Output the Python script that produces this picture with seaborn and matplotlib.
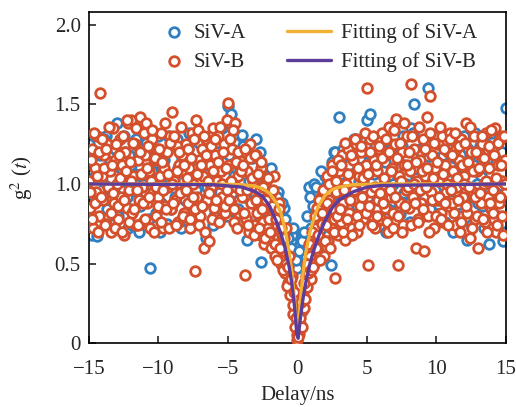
import numpy as np
import pandas as pd
import matplotlib
matplotlib.use("Agg")
import matplotlib.pyplot as plt
import seaborn as sns

# delay bins (ns)
delay_b = np.round(np.linspace(-15, 15, 301), 2)
delay_b2 = np.round(np.linspace(-14.95, 14.95, 300), 2)
delay_a = np.round(np.linspace(-15, 15, 151), 2)
delay_a2 = np.round(np.linspace(-14.9, 14.9, 150), 2)

# SiV-B counts (normalised)
siv_b = [
    1.02, 0.85, 1.22, 0.72, 1.10, 0.95, 1.30, 0.80, 1.57, 1.05,
    0.90, 1.18, 0.75, 1.25, 0.98, 1.08, 0.70, 1.35, 0.88, 1.15,
    1.00, 0.78, 1.28, 0.92, 1.12, 0.68, 1.20, 0.85, 1.38, 0.96,
    1.40, 0.82, 1.05, 1.25, 0.74, 1.15, 0.90, 1.42, 0.98, 0.76,
    1.18, 1.38, 0.88, 1.08, 0.72, 1.28, 0.95, 1.15, 0.80, 1.22,
    0.92, 1.05, 1.32, 0.72, 1.10, 0.86, 1.20, 0.98, 1.30, 0.84,
    1.45, 1.02, 0.90, 1.24, 0.76, 1.12, 0.95, 1.18, 0.82, 1.06,
    1.25, 0.88, 1.10, 0.72, 1.32, 1.00, 0.45, 1.40, 0.92, 1.15,
    0.80, 1.22, 1.05, 0.60, 1.28, 0.90, 0.64, 1.12, 0.98, 1.35,
    0.85, 1.18, 1.02, 1.30, 0.78, 1.08, 0.92, 1.25, 0.82, 1.40,
    1.51, 1.12, 0.88, 1.22, 0.76, 1.38, 0.98, 1.05, 0.82, 1.15,
    0.92, 1.20, 0.43, 0.78, 1.08, 0.70, 1.25, 0.88, 1.02, 0.74,
    1.18, 0.82, 0.95, 0.68, 1.10, 0.76, 0.62, 1.02, 0.86, 0.72,
    0.92, 0.60, 0.80, 1.05, 0.55, 0.74, 0.66, 0.88, 0.50, 0.68,
    0.58, 0.44, 0.72, 0.38, 0.55, 0.35, 0.42, 0.18, 0.28, 0.16,
    0.02, 0.06, 0.12, 0.20, 0.30, 0.22, 0.42, 0.35, 0.48, 0.55,
    0.40, 0.62, 0.50, 0.72, 0.85, 0.58, 0.66, 0.92, 0.75, 0.55,
    0.82, 1.05, 0.64, 0.90, 0.72, 1.12, 0.78, 0.41, 0.95, 0.68,
    1.08, 0.76, 1.18, 0.88, 0.65, 1.00, 1.22, 0.82, 0.94, 0.72,
    1.15, 0.90, 1.25, 0.70, 1.05, 0.86, 1.20, 0.78, 0.98, 1.12,
    1.60, 0.49, 1.28, 0.95, 0.80, 1.15, 0.72, 1.08, 0.90, 1.22,
    0.78, 1.32, 1.00, 0.85, 1.18, 0.70, 1.36, 0.92, 1.10, 0.82,
    1.25, 1.41, 0.49, 1.05, 0.88, 1.20, 0.74, 1.12, 0.96, 1.30,
    0.85, 1.08, 1.63, 0.92, 1.22, 0.60, 1.02, 0.78, 1.15, 0.88,
    1.28, 0.58, 1.05, 1.42, 0.80, 1.55, 0.95, 1.18, 0.72, 1.10,
    0.90, 1.25, 1.02, 0.82, 1.30, 0.76, 1.12, 0.95, 1.20, 0.86,
    1.32, 0.88, 1.08, 0.74, 1.22, 0.98, 1.15, 0.70, 1.28, 0.92,
    1.05, 1.38, 0.82, 1.12, 0.66, 1.20, 0.95, 1.30, 0.78, 1.08,
    0.60, 1.18, 0.88, 1.25, 1.00, 0.76, 1.32, 0.92, 1.10, 0.84,
    1.22, 0.96, 1.35, 0.70, 1.12, 0.88, 1.28, 1.02, 0.68, 1.15,
    0.95,
]
siv_b2 = [
    0.95, 1.15, 0.78, 1.32, 0.88, 1.05, 0.70, 1.20, 0.92, 1.28,
    1.10, 0.74, 1.22, 0.98, 1.36, 0.82, 1.12, 0.94, 0.72, 1.25,
    0.86, 1.18, 1.04, 0.70, 1.30, 0.90, 1.08, 1.40, 0.76, 1.14,
    1.02, 1.26, 0.84, 1.35, 0.96, 0.74, 1.20, 1.06, 0.88, 1.32,
    0.78, 1.10, 1.24, 0.92, 1.02, 1.34, 0.70, 1.16, 0.98, 0.86,
    1.22, 0.76, 1.14, 0.96, 1.38, 0.84, 1.06, 0.72, 1.26, 1.00,
    0.88, 1.30, 0.74, 1.08, 1.20, 0.94, 1.36, 0.80, 1.12, 0.96,
    1.04, 1.22, 0.78, 1.16, 0.92, 1.28, 0.84, 1.06, 1.34, 0.74,
    1.12, 0.86, 1.30, 0.70, 1.18, 1.02, 0.94, 1.24, 0.78, 1.08,
    1.28, 0.90, 1.14, 0.76, 1.36, 1.00, 1.20, 0.86, 1.10, 0.96,
    0.90, 1.28, 1.02, 1.34, 0.84, 1.14, 0.72, 1.20, 0.96, 1.08,
    1.12, 0.82, 1.22, 0.96, 0.74, 1.16, 0.88, 1.04, 0.68, 1.18,
    0.90, 1.06, 0.72, 1.14, 0.84, 0.98, 0.66, 0.90, 1.04, 0.78,
    0.70, 0.86, 0.96, 0.62, 0.78, 0.52, 0.84, 0.60, 0.72, 0.46,
    0.66, 0.50, 0.36, 0.48, 0.30, 0.40, 0.24, 0.32, 0.10, 0.05,
    0.04, 0.16, 0.26, 0.10, 0.38, 0.28, 0.50, 0.44, 0.62, 0.46,
    0.70, 0.48, 0.80, 0.60, 0.68, 0.90, 0.52, 0.82, 0.96, 0.64,
    0.74, 0.88, 1.00, 0.60, 1.08, 0.84, 0.70, 1.02, 0.80, 1.15,
    0.84, 1.12, 0.70, 0.96, 1.26, 0.78, 1.06, 0.90, 1.18, 0.68,
    0.96, 1.28, 0.80, 1.10, 0.74, 1.24, 0.92, 1.04, 1.32, 0.82,
    1.06, 0.86, 1.20, 0.74, 1.30, 0.98, 1.12, 0.80, 1.24, 0.94,
    1.16, 0.88, 1.04, 1.28, 0.76, 1.20, 0.96, 1.08, 0.72, 1.34,
    0.92, 1.16, 0.80, 1.26, 1.02, 0.70, 1.38, 0.86, 1.12, 0.98,
    1.20, 0.74, 1.30, 1.00, 0.88, 1.14, 0.76, 1.36, 0.96, 1.08,
    0.84, 1.22, 0.98, 1.10, 0.70, 1.32, 0.90, 1.04, 1.26, 0.80,
    1.14, 0.92, 1.36, 0.78, 1.06, 1.22, 0.88, 1.00, 0.74, 1.28,
    0.96, 1.18, 0.82, 1.32, 1.04, 0.90, 1.24, 0.76, 1.12, 1.00,
    1.26, 0.86, 1.14, 0.98, 1.36, 0.72, 1.08, 0.92, 1.20, 0.80,
    1.10, 0.94, 1.30, 0.78, 1.16, 1.02, 0.70, 1.24, 0.88, 1.34,
    0.82, 1.18, 1.04, 0.74, 1.26, 0.92, 1.12, 0.80, 1.30, 1.00,
]

# SiV-A counts (normalised)
siv_a = [
    1.25, 0.68, 1.05, 0.67, 1.18, 0.92, 1.30, 0.80, 1.10, 0.95,
    1.38, 0.85, 1.02, 1.20, 0.72, 1.12, 0.90, 1.28, 0.70, 1.05,
    0.95, 1.22, 0.47, 1.10, 0.82, 1.30, 0.88, 1.15, 0.75, 1.02,
    1.28, 0.92, 1.10, 0.72, 1.20, 0.98, 1.32, 0.85, 1.08, 0.78,
    1.15, 0.90, 0.66, 1.25, 1.02, 0.80, 1.18, 0.95, 1.35, 0.88,
    1.49, 1.44, 1.05, 0.82, 1.22, 1.31, 0.92, 0.65, 1.18, 1.05,
    1.28, 0.80, 0.51, 1.00, 0.90, 1.08, 0.70, 0.82, 0.95, 0.62,
    0.85, 0.58, 0.72, 0.68, 0.55, 0.47, 0.62, 0.68, 0.55, 0.98,
    0.72, 1.00, 0.60, 0.90, 0.80, 1.05, 0.68, 0.49, 1.20, 0.92,
    1.42, 0.85, 1.18, 0.95, 1.10, 0.78, 1.28, 1.02, 1.20, 0.88,
    1.40, 1.44, 0.74, 1.12, 0.90, 1.25, 0.72, 0.70, 1.05, 1.35,
    0.92, 1.18, 0.81, 1.30, 1.00, 0.88, 1.35, 1.50, 0.95, 1.22,
    0.80, 1.12, 1.60, 0.98, 0.82, 1.28, 0.90, 1.15, 0.76, 1.05,
    1.22, 0.70, 0.95, 1.10, 0.82, 1.30, 0.65, 1.18, 0.92, 1.32,
    0.88, 1.05, 0.72, 1.25, 0.62, 1.15, 0.95, 0.80, 1.30, 0.64,
    1.48,
]
siv_a2 = [
    1.12, 0.88, 1.20, 0.76, 1.02, 1.28, 0.84, 1.14, 0.96, 1.22,
    0.80, 1.10, 1.30, 0.92, 1.18, 0.74, 1.06, 1.24, 0.86, 1.00,
    1.26, 0.78, 1.08, 0.94, 1.20, 0.70, 1.14, 0.98, 1.30, 0.84,
    1.04, 1.28, 0.76, 1.16, 0.90, 1.22, 0.82, 1.10, 0.96, 1.26,
    0.86, 1.12, 0.98, 1.30, 0.74, 1.06, 1.20, 0.88, 1.14, 0.80,
    1.18, 0.94, 1.26, 0.84, 1.10, 1.24, 0.78, 1.02, 1.16, 0.90,
    1.04, 1.20, 0.76, 0.96, 0.86, 1.10, 0.80, 0.92, 0.70, 0.88,
    0.78, 0.66, 0.60, 0.72, 0.52, 0.58, 0.64, 0.70, 0.80, 0.92,
    0.86, 0.98, 0.76, 1.08, 0.90, 1.00, 0.82, 1.14, 1.20, 0.88,
    1.06, 1.22, 0.80, 1.12, 0.94, 1.28, 0.86, 1.16, 1.02, 1.24,
    0.92, 1.18, 1.06, 0.78, 1.28, 0.96, 1.14, 0.84, 1.22, 1.00,
    1.10, 0.86, 1.24, 0.94, 1.16, 0.76, 1.32, 1.04, 0.88, 1.20,
    1.02, 1.26, 0.84, 1.12, 0.96, 1.30, 0.78, 1.18, 0.92, 1.08,
    0.90, 1.16, 1.28, 0.80, 1.06, 0.96, 1.22, 0.74, 1.12, 1.00,
    1.24, 0.86, 1.10, 0.98, 1.32, 0.78, 1.14, 0.92, 1.20, 0.70,
]

# fitted curves
fit_a_t = [-15, -6, -4, -3, -2.5, -2, -1.5, -1.2, -0.9, -0.6, -0.4, -0.2, -0.05,
           0.05, 0.2, 0.4, 0.6, 0.9, 1.2, 1.5, 2, 2.5, 3, 4, 6, 15]
fit_a_g = [1.0, 1.0, 0.995, 0.985, 0.97, 0.94, 0.88, 0.82, 0.72, 0.57, 0.44, 0.26, 0.08,
           0.08, 0.26, 0.44, 0.57, 0.70, 0.79, 0.86, 0.93, 0.965, 0.98, 0.995, 1.0, 1.0]
fit_b_t = [-15, -6, -4, -3, -2.5, -2, -1.5, -1.2, -0.9, -0.6, -0.4, -0.2, -0.05,
           0.05, 0.2, 0.4, 0.6, 0.9, 1.2, 1.6, 2, 2.5, 3, 4, 5, 6, 15]
fit_b_g = [1.0, 0.995, 0.98, 0.95, 0.92, 0.86, 0.76, 0.69, 0.60, 0.48, 0.37, 0.22, 0.06,
           0.03, 0.15, 0.28, 0.38, 0.50, 0.59, 0.69, 0.77, 0.85, 0.90, 0.95, 0.98, 0.99, 1.0]

blue = "#2f7fc1"
red = "#d4502c"
orange = "#f2b134"
purple = "#5e3c99"

sns.set_style("ticks")
plt.rcParams["font.family"] = ["Liberation Serif", "DejaVu Serif"]
plt.rcParams["mathtext.fontset"] = "stix"

fig = plt.figure(figsize=(5.16, 4.07), dpi=100)
ax = fig.add_axes([0.1725, 0.157, 0.808, 0.8135])

df_a = pd.DataFrame({"t": np.concatenate([delay_a, delay_a2]),
                     "g": siv_a + siv_a2})
df_b = pd.DataFrame({"t": np.concatenate([delay_b, delay_b2]),
                     "g": siv_b + siv_b2})

sns.scatterplot(data=df_a, x="t", y="g", ax=ax, marker="o", s=48,
                facecolor="white", edgecolor=blue, linewidth=2.0, label="SiV-A", zorder=2)
sns.scatterplot(data=df_b, x="t", y="g", ax=ax, marker="o", s=48,
                facecolor="white", edgecolor=red, linewidth=2.0, label="SiV-B", zorder=3)
sns.lineplot(x=fit_a_t, y=fit_a_g, ax=ax, color=orange, linewidth=2.4,
             label="Fitting of SiV-A", zorder=4)
sns.lineplot(x=fit_b_t, y=fit_b_g, ax=ax, color=purple, linewidth=2.4,
             label="Fitting of SiV-B", zorder=5)

ax.set_xlim(-15, 15)
ax.set_ylim(0, 2.08)
ax.set_xticks([-15, -10, -5, 0, 5, 10, 15])
ax.set_yticks([0, 0.5, 1.0, 1.5, 2.0])
ax.set_yticklabels(["0", "0.5", "1.0", "1.5", "2.0"])
ax.tick_params(direction="in", length=5, width=1.2, labelsize=15,
               top=False, right=False)
ax.tick_params(axis="x", pad=12)
ax.tick_params(axis="y", pad=6)
for sp in ax.spines.values():
    sp.set_linewidth(1.2)
    sp.set_color("black")

ax.set_xlabel("Delay/ns", fontsize=15, labelpad=5)
ax.set_ylabel(r"g$^2$ ($t$)", fontsize=15, labelpad=14)

h, l = ax.get_legend_handles_labels()
leg1 = ax.legend(h[:2], l[:2], loc="upper left", bbox_to_anchor=(0.145, 1.01),
                 frameon=False, fontsize=15, handlelength=1.0, handletextpad=0.4,
                 labelspacing=0.45, borderpad=0.2)
ax.add_artist(leg1)
ax.legend(h[2:], l[2:], loc="upper left", bbox_to_anchor=(0.44, 1.01),
          frameon=False, fontsize=15, handlelength=2.1, handletextpad=0.5,
          labelspacing=0.45, borderpad=0.2)

fig.savefig("out.png", dpi=100)
